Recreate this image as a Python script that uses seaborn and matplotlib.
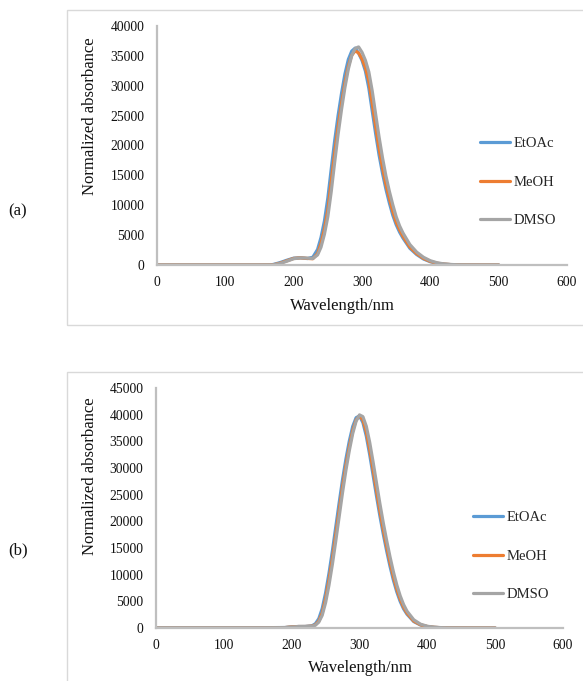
import numpy as np
import pandas as pd
import matplotlib
matplotlib.use("Agg")
import matplotlib.pyplot as plt
from matplotlib.patches import Rectangle
import seaborn as sns

# ---------------- data ----------------
solvents = ["EtOAc", "MeOH", "DMSO"]
colors = ["#5B9BD5", "#ED7D31", "#A5A5A5"]

wl_a = [0, 50, 100, 150, 165, 170, 180, 190, 200, 210, 220, 228, 235, 240, 245, 250,
        255, 260, 265, 270, 275, 280, 285, 290, 295, 300, 305, 310, 315, 320, 325,
        330, 335, 340, 345, 350, 355, 360, 370, 380, 390, 400, 410, 420, 430, 440,
        450, 470, 500]
etoac_a = [0, 0, 0, 0, 10, 90, 400, 800, 1150, 1200, 1080, 1300, 2600, 4600, 7350, 11200,
           16100, 20800, 25000, 28700, 31950, 34400, 35800, 36300, 35450, 34250, 32450, 29600,
           25750, 21950, 18400, 15350, 12700, 10400, 8350, 6750, 5500, 4500, 2800, 1750, 1000,
           540, 270, 135, 62, 25, 8, 0, 0]
meoh_a = [0, 0, 0, 0, 0, 30, 300, 700, 1100, 1200, 1100, 1050, 1900, 3600, 6000, 9200,
          14000, 18800, 23200, 27000, 30500, 33300, 35100, 35850, 35500, 34500, 33000, 30800,
          27000, 23200, 19500, 16300, 13500, 11200, 9000, 7200, 5900, 4800, 3000, 1900, 1100,
          600, 300, 150, 70, 30, 10, 0, 0]
dmso_a = [0, 0, 0, 0, 0, 15, 250, 630, 1050, 1200, 1140, 1080, 1690, 2980, 5140, 8080,
          12300, 17200, 21850, 26000, 29700, 32800, 35050, 36250, 36500, 35600, 34250, 32300,
          29100, 25200, 21400, 17950, 14900, 12350, 10100, 8080, 6550, 5350, 3430, 2160, 1290,
          715, 370, 185, 88, 40, 15, 0, 0]

wl_b = [0, 50, 100, 150, 190, 200, 210, 220, 230, 235, 240, 245, 250, 255, 260, 265, 270,
        275, 280, 285, 290, 295, 300, 305, 310, 315, 320, 325, 330, 335, 340, 345, 350,
        355, 360, 365, 370, 380, 390, 400, 410, 420, 430, 450, 500]
etoac_b = [50, 50, 50, 50, 90, 220, 280, 290, 420, 800, 1750, 3630, 6580, 10250, 14420,
           18950, 23470, 27840, 31700, 35070, 37790, 39440, 39760, 38530, 35990, 32520, 28670,
           24780, 21050, 17630, 14470, 11550, 8950, 6760, 4970, 3590, 2590, 1200, 555, 258,
           120, 55, 28, 9, 0]
meoh_b = [50, 50, 50, 50, 80, 200, 280, 280, 350, 600, 1300, 2800, 5500, 9000, 13000,
          17500, 22000, 26500, 30500, 34000, 37000, 39000, 39800, 39000, 36800, 33500, 29700,
          25800, 22000, 18500, 15300, 12300, 9600, 7300, 5400, 3900, 2800, 1300, 600, 280,
          130, 60, 30, 10, 0]
dmso_b = [50, 50, 50, 50, 70, 180, 275, 280, 330, 530, 1100, 2370, 4740, 8030, 11920,
          16310, 20860, 25400, 29590, 33280, 36460, 38780, 39960, 39630, 37830, 34830, 31150,
          27240, 23370, 19750, 16420, 13330, 10510, 8070, 6030, 4390, 3160, 1540, 712, 330,
          154, 71, 35, 12, 0]

x_ticks = [0, 100, 200, 300, 400, 500, 600]
y_ticks_a = [0, 5000, 10000, 15000, 20000, 25000, 30000, 35000, 40000]
y_ticks_b = [0, 5000, 10000, 15000, 20000, 25000, 30000, 35000, 40000, 45000]
panel_labels = ["(a)", "(b)"]
x_label = "Wavelength/nm"
y_label = "Normalized absorbance"


def long_df(wl, series):
    frames = []
    for name, vals in zip(solvents, series):
        frames.append(pd.DataFrame({"Wavelength": wl, "Absorbance": vals, "Solvent": name}))
    return pd.concat(frames, ignore_index=True)


df_a = long_df(wl_a, [etoac_a, meoh_a, dmso_a])
df_b = long_df(wl_b, [etoac_b, meoh_b, dmso_b])

# ---------------- style ----------------
sns.set_theme(style="white")
plt.rcParams["font.family"] = ["Liberation Serif", "DejaVu Serif"]

W, H = 583, 681
fig = plt.figure(figsize=(W / 100, H / 100), dpi=100)
fig.patch.set_facecolor("white")


def px_rect(l, t, r, b):
    return [l / W, 1 - b / H, (r - l) / W, (b - t) / H]


ax_a = fig.add_axes(px_rect(157, 26, 567, 265))
ax_b = fig.add_axes(px_rect(156, 388, 563, 628))

palette = dict(zip(solvents, colors))

panels = [
    # ax, df, yticks, legend anchor, ylabel centre (px), xlabel centre (px)
    (ax_a, df_a, y_ticks_a, ((474 - 157) / 410, 1 - (182 - 26) / 239),
     (90, 116), (342, 306), (157, 26, 567, 265)),
    (ax_b, df_b, y_ticks_b, ((467 - 156) / 407, 1 - (556 - 388) / 240),
     (90, 476), (360, 668), (156, 388, 563, 628)),
]

for ax, df, yt, leg_anchor, ylc, xlc, box in panels:
    sns.lineplot(data=df, x="Wavelength", y="Absorbance", hue="Solvent",
                 hue_order=solvents, palette=palette, linewidth=2.3, ax=ax,
                 legend=True)
    ax.set_xlim(0, 600)
    ax.set_ylim(0, yt[-1])
    ax.set_xticks(x_ticks)
    ax.set_yticks(yt)
    ax.set_xticklabels([str(v) for v in x_ticks])
    ax.set_yticklabels([str(v) for v in yt])
    ax.tick_params(axis="both", length=0, labelsize=9.8, labelcolor="#111111")
    ax.tick_params(axis="y", pad=9)
    ax.tick_params(axis="x", pad=8)
    for s in ["top", "right"]:
        ax.spines[s].set_visible(False)
    for s in ["left", "bottom"]:
        ax.spines[s].set_color("#BFBFBF")
        ax.spines[s].set_linewidth(1.6)
    ax.set_xlabel(x_label, fontsize=12, color="#111111")
    ax.set_ylabel(y_label, fontsize=12, color="#111111")
    l, t, r, b = box
    ax.yaxis.set_label_coords((ylc[0] - l) / (r - l), (b - ylc[1]) / (b - t))
    ax.xaxis.set_label_coords((xlc[0] - l) / (r - l), (b - xlc[1]) / (b - t))
    ax.yaxis.label.set_va("center")
    ax.xaxis.label.set_va("center")
    ax.set_facecolor("none")
    leg = ax.legend(loc="center left", bbox_to_anchor=leg_anchor, frameon=False,
                    fontsize=10.5, handlelength=2.05, handletextpad=0.3,
                    labelspacing=1.75, borderaxespad=0)
    for line in leg.get_lines():
        line.set_linewidth(2.3)

# outer chart frames (Excel chart areas)
fig.add_artist(Rectangle((67 / W, 1 - 325 / H), 1.1, (325 - 10) / H,
                         transform=fig.transFigure, fill=False,
                         edgecolor="#D9D9D9", linewidth=1.0))
fig.add_artist(Rectangle((67 / W, -0.1), 1.1, 0.1 + (1 - 372 / H),
                         transform=fig.transFigure, fill=False,
                         edgecolor="#D9D9D9", linewidth=1.0))

fig.text(18 / W, 1 - 211 / H, panel_labels[0], fontsize=12, ha="center", va="center",
         color="#111111")
fig.text(18 / W, 1 - 550 / H, panel_labels[1], fontsize=12, ha="center", va="center",
         color="#111111")

fig.savefig("out.png", dpi=100, facecolor="white")
